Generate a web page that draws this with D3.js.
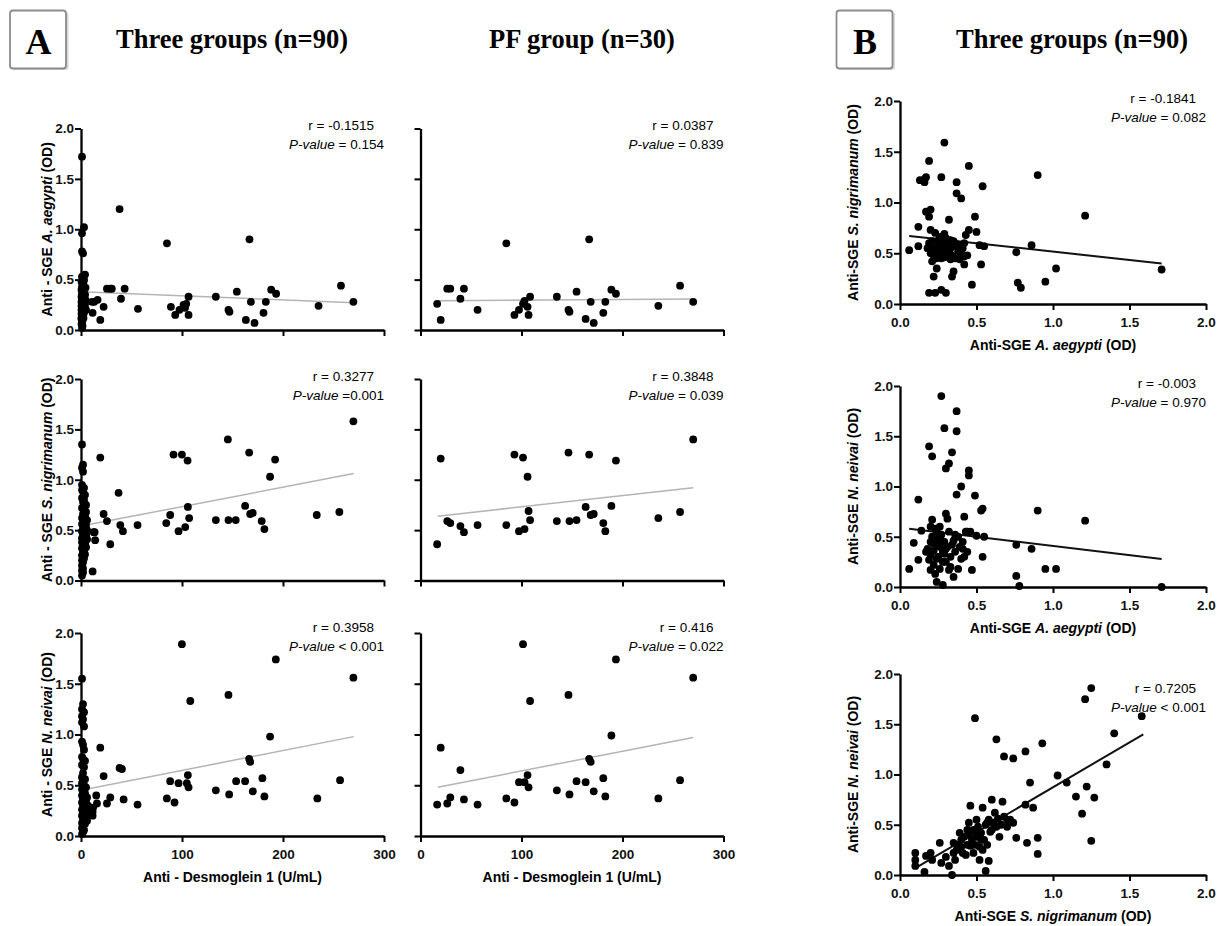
<!DOCTYPE html>
<html>
<head>
<meta charset="utf-8">
<script src="https://cdn.jsdelivr.net/npm/d3@7"></script>
<style>
  body { margin: 0; background: #fff; }
  svg { display: block; }
</style>
</head>
<body>
<svg id="fig" width="1228" height="926"></svg>
<script>
// ---------- data ----------
// Panel A, PF group (n=30): anti-Dsg1 (U/mL) and anti-SGE OD values
var pfDsg = [16.5, 20, 26.5, 29.5, 39.5, 43, 56.5, 85, 93, 97.5, 101.5, 103, 106, 107, 108.5,
             135, 146.5, 147.5, 154.5, 163.5, 167, 168.5, 171.5, 181, 183, 189, 193.5, 235.5, 257, 270];
var pfAegypti = [0.26, 0.10, 0.41, 0.41, 0.31, 0.41, 0.20, 0.86, 0.15, 0.20, 0.26, 0.29, 0.23, 0.15, 0.33,
                 0.33, 0.20, 0.18, 0.38, 0.11, 0.90, 0.28, 0.07, 0.17, 0.28, 0.40, 0.36, 0.24, 0.44, 0.28];
var pfNigrimanum = [0.36, 1.21, 0.59, 0.57, 0.54, 0.48, 0.55, 0.55, 1.25, 0.49, 1.22, 0.51, 1.03, 0.69, 0.60,
                    0.59, 1.27, 0.59, 0.60, 0.73, 1.25, 0.65, 0.66, 0.57, 0.49, 0.74, 1.19, 0.62, 0.68, 1.40];
var pfNeivai = [0.31, 0.87, 0.32, 0.38, 0.65, 0.36, 0.31, 0.37, 0.33, 0.53, 1.89, 0.53, 0.60, 0.48, 1.33,
                0.45, 1.39, 0.41, 0.54, 0.53, 0.76, 0.73, 0.44, 0.57, 0.39, 0.99, 1.74, 0.37, 0.55, 1.56];

// Panel A, three groups (n=90): [anti-Dsg1, OD] pairs
var threeAegypti = [
  [10.9,0.28],[11.5,0.17],[13,0.28],[16.4,0.30],[19.1,0.10],[22.4,0.23],[25.7,0.41],[29,0.41],[30.5,0.41],
  [38.2,1.20],[39.6,0.31],[43.2,0.41],[56.4,0.21],[85.1,0.86],[89,0.23],[93.3,0.15],[97.5,0.20],[101.5,0.25],
  [104.2,0.26],[106.5,0.33],[106.5,0.15],[103,0.22],[133.5,0.33],[146,0.20],[147,0.18],[154.3,0.38],[163.2,0.10],
  [166.8,0.90],[168.2,0.28],[171.8,0.07],[180.7,0.17],[183,0.28],[188.3,0.40],[193.2,0.36],[235.2,0.24],
  [257.4,0.44],[269.7,0.28],
  [1,1.72],[3,1.02],[1,0.96],[1,0.78],[2,0.76],[4,0.55],[1,0.53],[3,0.50],[0.5,0.48],[2,0.45],[1,0.43],
  [3,0.41],[0.5,0.40],[2,0.38],[1,0.36],[3.5,0.35],[0.5,0.33],[2,0.32],[1,0.30],[3,0.29],[0.5,0.28],[2,0.27],
  [1,0.26],[3,0.25],[0.5,0.24],[2,0.23],[1,0.22],[3,0.21],[0.5,0.20],[2,0.19],[1,0.18],[3,0.17],[0.5,0.16],
  [2,0.15],[1,0.14],[2.5,0.12],[0.5,0.11],[1.5,0.10],[1,0.08],[0.5,0.06],[1.5,0.04],[1,0.02],[4.5,0.30],
  [4,0.25],[3.5,0.22],[4.5,0.42],[2.5,0.48],[4,0.35],[5,0.20],[1.5,0.52],[2.5,0.31],[3.5,0.27],[0.5,0.12]
];
var threeNigrimanum = [
  [11.5,0.09],[12.5,0.48],[13.5,0.48],[14,0.40],[19.1,1.22],[22.4,0.66],[25.7,0.59],[29,0.36],[37.2,0.87],
  [38.9,0.55],[41.5,0.49],[56,0.55],[84.4,0.57],[88.3,0.65],[91.6,1.25],[96.6,0.49],[99.9,1.25],[103.2,0.53],
  [105.5,1.19],[105.8,0.73],[107.1,0.62],[133.5,0.60],[145.4,1.40],[146,0.60],[153.2,0.60],[162.5,0.74],
  [166.5,1.27],[167.5,0.66],[170,0.67],[178.9,0.59],[181.6,0.51],[187.2,1.03],[192.2,1.20],[233.4,0.65],
  [255.8,0.68],[269.7,1.58],
  [1,1.35],[2,1.15],[1,1.12],[2,1.08],[1,0.95],[3,0.92],[1,0.90],[2,0.88],[4,0.85],[1,0.82],[3,0.80],
  [2,0.78],[5,0.75],[1,0.72],[3,0.70],[5,0.68],[2,0.66],[4,0.64],[1,0.62],[6,0.60],[3,0.58],[1,0.56],
  [5,0.55],[2,0.53],[4,0.52],[6,0.50],[1,0.49],[3,0.47],[5,0.46],[2,0.45],[4,0.44],[1,0.42],[6,0.41],
  [3,0.40],[1,0.38],[4,0.37],[2,0.35],[5,0.33],[1,0.32],[3,0.30],[2,0.28],[4,0.26],[1,0.25],[3,0.22],
  [1,0.20],[2,0.18],[1,0.15],[2,0.12],[1,0.10],[2,0.08],[1,0.05],[4,0.60],[3,0.50],[5,0.44]
];
var threeNeivai = [
  [11.5,0.24],[11.5,0.20],[12,0.28],[15.1,0.40],[15.8,0.32],[19.1,0.87],[22.4,0.59],[25.7,0.32],[29,0.38],
  [38.2,0.67],[40.5,0.66],[42.2,0.36],[56,0.31],[85,0.37],[88.3,0.54],[92.6,0.33],[96.6,0.52],[99.9,1.89],
  [104.8,0.52],[105.8,0.60],[106.5,0.48],[108.2,1.33],[133.5,0.45],[146,1.39],[146.7,0.41],[153.6,0.54],
  [162.5,0.54],[166.5,0.76],[167.5,0.73],[170.1,0.44],[179.6,0.57],[181.6,0.39],[187.2,0.98],[192.9,1.74],
  [234,0.37],[256.5,0.55],[269.7,1.56],
  [1,1.55],[2,1.30],[1,1.25],[3,1.22],[1,1.18],[2,1.15],[1,1.12],[3,1.08],[1,0.93],[2,0.90],[3,0.85],
  [1,0.78],[2,0.76],[4,0.74],[1,0.70],[3,0.68],[2,0.62],[1,0.58],[4,0.56],[2,0.54],[1,0.52],[3,0.50],
  [5,0.48],[1,0.46],[2,0.44],[4,0.42],[1,0.40],[3,0.38],[2,0.36],[5,0.35],[1,0.33],[3,0.31],[2,0.30],
  [4,0.28],[1,0.26],[6,0.25],[2,0.23],[3,0.22],[1,0.20],[5,0.18],[2,0.17],[3,0.15],[1,0.13],[4,0.12],
  [2,0.10],[1,0.08],[3,0.06],[2,0.04],[1,0.02],[6,0.38],[7,0.30],[8,0.22],[6,0.15]
];

// Panel B, three groups (n=90): [x OD, y OD] pairs
var aegyptiVsNigrimanum = [
  [0.06,0.53],[0.12,0.57],[0.12,0.76],[0.13,1.22],[0.16,1.23],[0.16,1.20],[0.17,1.25],[0.19,1.41],[0.17,0.91],
  [0.20,0.93],[0.19,0.86],[0.20,0.73],[0.19,0.60],[0.20,0.50],[0.21,0.42],[0.22,0.27],[0.19,0.11],[0.23,0.11],
  [0.24,0.35],[0.25,0.50],[0.26,0.66],[0.27,1.25],[0.27,0.14],[0.29,1.59],[0.30,0.11],[0.31,0.47],[0.32,0.83],
  [0.33,0.63],[0.34,0.27],[0.35,0.32],[0.37,1.20],[0.37,1.09],[0.40,1.04],[0.37,0.57],[0.39,0.44],[0.42,0.39],
  [0.42,0.60],[0.45,1.36],[0.45,0.73],[0.47,0.19],[0.49,0.86],[0.50,0.71],[0.52,0.58],[0.53,0.39],[0.54,1.16],
  [0.55,0.57],[0.76,0.51],[0.77,0.21],[0.79,0.16],[0.86,0.58],[0.90,1.27],[0.95,0.22],[1.02,0.35],[1.21,0.87],
  [1.71,0.34],
  [0.22,0.55],[0.24,0.62],[0.26,0.48],[0.28,0.58],[0.29,0.69],[0.30,0.52],[0.31,0.60],[0.33,0.55],[0.34,0.48],
  [0.35,0.62],[0.36,0.45],[0.38,0.52],[0.40,0.49],[0.41,0.55],[0.43,0.68],[0.44,0.48],[0.23,0.70],[0.25,0.58],
  [0.27,0.45],[0.28,0.52],[0.30,0.65],[0.32,0.50],[0.34,0.58],[0.21,0.62],[0.18,0.55],[0.22,0.48],[0.26,0.55],
  [0.29,0.46],[0.31,0.55],[0.36,0.60],[0.39,0.58],[0.42,0.47],[0.24,0.45],[0.27,0.62],[0.33,0.44]
];
var aegyptiVsNeivai = [
  [0.06,0.18],[0.09,0.44],[0.12,0.87],[0.12,0.27],[0.14,0.56],[0.19,1.40],[0.21,1.30],[0.20,0.60],[0.21,0.67],
  [0.17,0.35],[0.19,0.27],[0.20,0.17],[0.22,0.43],[0.23,0.13],[0.24,0.05],[0.27,1.90],[0.26,0.60],[0.27,0.46],
  [0.28,0.02],[0.29,1.58],[0.30,1.18],[0.32,1.23],[0.30,0.73],[0.31,0.68],[0.29,0.33],[0.32,0.17],[0.34,1.34],
  [0.37,1.75],[0.37,1.55],[0.37,0.92],[0.35,0.10],[0.35,0.46],[0.38,0.18],[0.40,1.00],[0.42,0.70],[0.41,0.38],
  [0.42,0.30],[0.44,0.55],[0.45,1.16],[0.45,1.11],[0.46,0.55],[0.47,0.17],[0.49,0.91],[0.50,0.51],[0.53,0.76],
  [0.54,0.78],[0.54,0.30],[0.55,0.50],[0.76,0.42],[0.76,0.11],[0.78,0.01],[0.86,0.38],[0.90,0.76],[0.95,0.18],
  [1.02,0.18],[1.21,0.66],[1.71,0.00],
  [0.18,0.38],[0.20,0.32],[0.21,0.50],[0.22,0.36],[0.23,0.42],[0.24,0.55],[0.25,0.30],[0.26,0.40],[0.27,0.52],
  [0.28,0.35],[0.29,0.45],[0.30,0.25],[0.31,0.40],[0.32,0.55],[0.33,0.30],[0.34,0.42],[0.36,0.35],[0.38,0.50],
  [0.40,0.28],[0.41,0.45],[0.43,0.55],[0.44,0.35],[0.22,0.22],[0.24,0.28],[0.26,0.18],[0.28,0.25],[0.30,0.38],
  [0.33,0.20],[0.25,0.48],[0.23,0.58],[0.36,0.52],[0.39,0.40],[0.20,0.45]
];
var nigrimanumVsNeivai = [
  [0.10,0.22],[0.10,0.15],[0.10,0.09],[0.16,0.03],[0.17,0.19],[0.20,0.22],[0.21,0.15],[0.26,0.32],[0.27,0.12],
  [0.32,0.09],[0.34,0.00],[0.35,0.32],[0.36,0.15],[0.37,0.25],[0.39,0.42],[0.40,0.35],[0.41,0.22],[0.44,0.45],
  [0.46,0.29],[0.46,0.69],[0.49,1.56],[0.50,0.55],[0.51,0.42],[0.52,0.15],[0.53,0.35],[0.54,0.67],[0.56,0.04],
  [0.57,0.52],[0.58,0.14],[0.59,0.43],[0.60,0.75],[0.62,0.62],[0.63,1.35],[0.65,0.38],[0.67,0.73],[0.68,1.18],
  [0.70,0.55],[0.74,1.16],[0.74,0.52],[0.76,0.37],[0.82,0.70],[0.82,1.23],[0.83,0.32],[0.85,0.92],[0.87,0.67],
  [0.90,0.21],[0.90,0.37],[0.93,1.31],[1.03,0.99],[1.09,0.92],[1.15,0.78],[1.19,0.61],[1.21,1.75],[1.22,0.88],
  [1.25,1.86],[1.25,0.34],[1.27,0.77],[1.35,1.10],[1.40,1.41],[1.58,1.58],
  [0.40,0.28],[0.42,0.38],[0.44,0.30],[0.45,0.40],[0.47,0.35],[0.48,0.45],[0.49,0.30],[0.50,0.38],[0.51,0.48],
  [0.52,0.28],[0.53,0.42],[0.55,0.35],[0.56,0.50],[0.57,0.30],[0.58,0.55],[0.60,0.45],[0.61,0.52],[0.63,0.48],
  [0.64,0.56],[0.66,0.50],[0.68,0.58],[0.70,0.48],[0.72,0.55],[0.48,0.22],[0.54,0.25],[0.45,0.52],[0.43,0.20],
  [0.38,0.30],[0.35,0.22],[0.30,0.18]
];

// fitted lines: [intercept, slope, xStart, xEnd]
var fitThreeAeg = [0.38, -0.00041, 0, 270];
var fitPfAeg = [0.29, 0.00007, 17, 270];
var fitThreeNig = [0.54, 0.00193, 0, 270];
var fitPfNig = [0.62, 0.00111, 17, 270];
var fitThreeNei = [0.45, 0.00196, 0, 270];
var fitPfNei = [0.447, 0.00194, 17, 270];
var fitAegNig = [0.68, -0.164, 0.06, 1.71];
var fitAegNei = [0.59, -0.182, 0.06, 1.71];
var fitNigNei = [-0.02, 0.893, 0.10, 1.59];

// correlation labels
var rLabels = ['-0.1515', '0.0387', '0.3277', '0.3848', '0.3958', '0.416', '-0.1841', '-0.003', '0.7205'];
var pLabels = [' = 0.154', ' = 0.839', ' =0.001', ' = 0.039', ' < 0.001', ' = 0.022', ' = 0.082', ' = 0.970', ' < 0.001'];

var dsgTicks = [0, 100, 200, 300];
var odTicks = [0, 0.5, 1, 1.5, 2];

// ---------- drawing ----------
var svg = d3.select('#fig');
var sans = "'Liberation Sans', Arial, sans-serif";
var serif = "'Liberation Serif', 'Times New Roman', serif";

function zip(xs, ys) {
  return xs.map(function(d, i){ return [d, ys[i]]; });
}

function richText(sel, parts) {
  parts.forEach(function(p){
    sel.append('tspan')
      .attr('font-style', p[1] ? 'italic' : 'normal')
      .text(p[0]);
  });
}

function drawPanel(p) {
  var x = d3.scaleLinear().domain(p.xDomain).range([p.left, p.right]);
  var y = d3.scaleLinear().domain([0, 2]).range([p.bottom, p.top]);
  var g = svg.append('g');

  // fitted line first, points on top
  var f = p.fit;
  g.append('line')
    .attr('x1', x(f[2])).attr('y1', y(f[0] + f[1] * f[2]))
    .attr('x2', x(f[3])).attr('y2', y(f[0] + f[1] * f[3]))
    .attr('stroke', p.lineColor)
    .attr('stroke-width', p.lineWidth);

  g.selectAll('circle')
    .data(p.points)
    .enter().append('circle')
      .attr('cx', function(d){ return x(d[0]); })
      .attr('cy', function(d){ return y(d[1]); })
      .attr('r', 3.9)
      .attr('fill', '#000');

  var xAxis = d3.axisBottom(x).tickValues(p.xTicks).tickSize(6).tickSizeOuter(0)
    .tickFormat(p.xLabels ? p.xFormat : '');
  var yAxis = d3.axisLeft(y).tickValues(odTicks).tickSize(6).tickSizeOuter(0)
    .tickFormat(p.yLabels ? d3.format('.1f') : '');

  var gx = g.append('g').attr('transform', 'translate(0,' + p.bottom + ')').call(xAxis);
  var gy = g.append('g').attr('transform', 'translate(' + p.left + ',0)').call(yAxis);

  [gx, gy].forEach(function(a){
    a.select('.domain').attr('stroke', '#000').attr('stroke-width', 2.3);
    a.selectAll('.tick line').attr('stroke', '#000').attr('stroke-width', 2);
    a.selectAll('.tick text')
      .attr('fill', '#111')
      .style('font-family', sans)
      .style('font-size', '13.5px')
      .style('font-weight', 'bold');
  });
  gx.selectAll('.tick text').attr('dy', '1.05em');
  gy.selectAll('.tick text').attr('x', -7);

  // r and P-value
  g.append('text')
    .attr('x', p.right - 10).attr('y', p.top + p.noteDy)
    .attr('text-anchor', 'end')
    .style('font-family', sans).style('font-size', '13.5px')
    .text('r = ' + p.r);
  var pt = g.append('text')
    .attr('x', p.right).attr('y', p.top + p.noteDy + 19)
    .attr('text-anchor', 'end')
    .style('font-family', sans).style('font-size', '13.5px');
  richText(pt, [['P-value', true], [p.p, false]]);

  // axis titles
  var yt = g.append('text')
    .attr('transform', 'translate(' + p.yTitleX + ',' + ((p.top + p.bottom) / 2) + ') rotate(-90)')
    .attr('text-anchor', 'middle')
    .style('font-family', sans).style('font-size', '14px').style('font-weight', 'bold');
  richText(yt, p.yTitle);

  if (p.xTitle) {
    var xt = g.append('text')
      .attr('x', (p.left + p.right) / 2).attr('y', p.bottom + p.xTitleDy)
      .attr('text-anchor', 'middle')
      .style('font-family', sans).style('font-size', '14px').style('font-weight', 'bold');
    richText(xt, p.xTitle);
  }
}

var colA = [[81, 384], [420.5, 723.5]];
var rowA = [[128.5, 330], [379, 580.5], [633, 836]];
var rowB = [[101, 304], [386, 587], [674, 875]];

var aTitles = [
  [['Anti - SGE ', false], ['A. aegypti', true], [' (OD)', false]],
  [['Anti - SGE ', false], ['S. nigrimanum', true], ['  (OD)', false]],
  [['Anti - SGE ', false], ['N. neivai', true], [' (OD)', false]]
];
var threeSets = [threeAegypti, threeNigrimanum, threeNeivai];
var pfSets = [zip(pfDsg, pfAegypti), zip(pfDsg, pfNigrimanum), zip(pfDsg, pfNeivai)];
var threeFits = [fitThreeAeg, fitThreeNig, fitThreeNei];
var pfFits = [fitPfAeg, fitPfNig, fitPfNei];

rowA.forEach(function(row, i){
  [0, 1].forEach(function(c){
    drawPanel({
      left: colA[c][0], right: colA[c][1], top: row[0], bottom: row[1],
      xDomain: [0, 300], xTicks: dsgTicks, xFormat: d3.format('d'),
      xLabels: i === 2, yLabels: c === 0,
      points: c === 0 ? threeSets[i] : pfSets[i],
      fit: c === 0 ? threeFits[i] : pfFits[i],
      lineColor: '#b4b4b4', lineWidth: 1.5,
      r: rLabels[i * 2 + c], p: pLabels[i * 2 + c], noteDy: i === 2 ? -1 : 1.5,
      yTitle: c === 0 ? aTitles[i] : [],
      yTitleX: 52,
      xTitle: i === 2 ? [['Anti - Desmoglein 1 (U/mL)', false]] : null,
      xTitleDy: 46
    });
  });
});

var bSets = [aegyptiVsNigrimanum, aegyptiVsNeivai, nigrimanumVsNeivai];
var bFits = [fitAegNig, fitAegNei, fitNigNei];
var bYTitles = [
  [['Anti-SGE ', false], ['S. nigrimanum', true], [' (OD)', false]],
  [['Anti-SGE ', false], ['N. neivai', true], [' (OD)', false]],
  [['Anti-SGE ', false], ['N. neivai', true], [' (OD)', false]]
];
var bXTitles = [
  [['Anti-SGE ', false], ['A. aegypti', true], [' (OD)', false]],
  [['Anti-SGE ', false], ['A. aegypti', true], [' (OD)', false]],
  [['Anti-SGE ', false], ['S. nigrimanum', true], [' (OD)', false]]
];

rowB.forEach(function(row, i){
  drawPanel({
    left: 900, right: 1206, top: row[0], bottom: row[1],
    xDomain: [0, 2], xTicks: odTicks, xFormat: d3.format('.1f'),
    xLabels: true, yLabels: true,
    points: bSets[i], fit: bFits[i],
    lineColor: '#111', lineWidth: 2,
    r: rLabels[6 + i], p: pLabels[6 + i], noteDy: i === 2 ? 19 : 1.5,
    yTitle: bYTitles[i], yTitleX: 858,
    xTitle: bXTitles[i], xTitleDy: 46
  });
});

// panel letters and headers
function letterBox(cx, letter) {
  svg.append('rect')
    .attr('x', cx - 27).attr('y', 12).attr('width', 57).attr('height', 58)
    .attr('rx', 3).attr('fill', '#d8d8d8');
  svg.append('rect')
    .attr('x', cx - 28.5).attr('y', 10.5).attr('width', 56).attr('height', 58)
    .attr('rx', 3).attr('fill', '#fff').attr('stroke', '#8c8c8c').attr('stroke-width', 1.8);
  svg.append('text')
    .attr('x', cx).attr('y', 54).attr('text-anchor', 'middle')
    .style('font-family', serif).style('font-size', '36px').style('font-weight', 'bold')
    .text(letter);
}
letterBox(38.5, 'A');
letterBox(865, 'B');

var headers = [[232, 'Three groups (n=90)'], [582, 'PF group (n=30)'], [1072, 'Three groups (n=90)']];
headers.forEach(function(h){
  svg.append('text')
    .attr('x', h[0]).attr('y', 48).attr('text-anchor', 'middle')
    .style('font-family', serif).style('font-size', '26.5px').style('font-weight', 'bold')
    .text(h[1]);
});
</script>
</body>
</html>
